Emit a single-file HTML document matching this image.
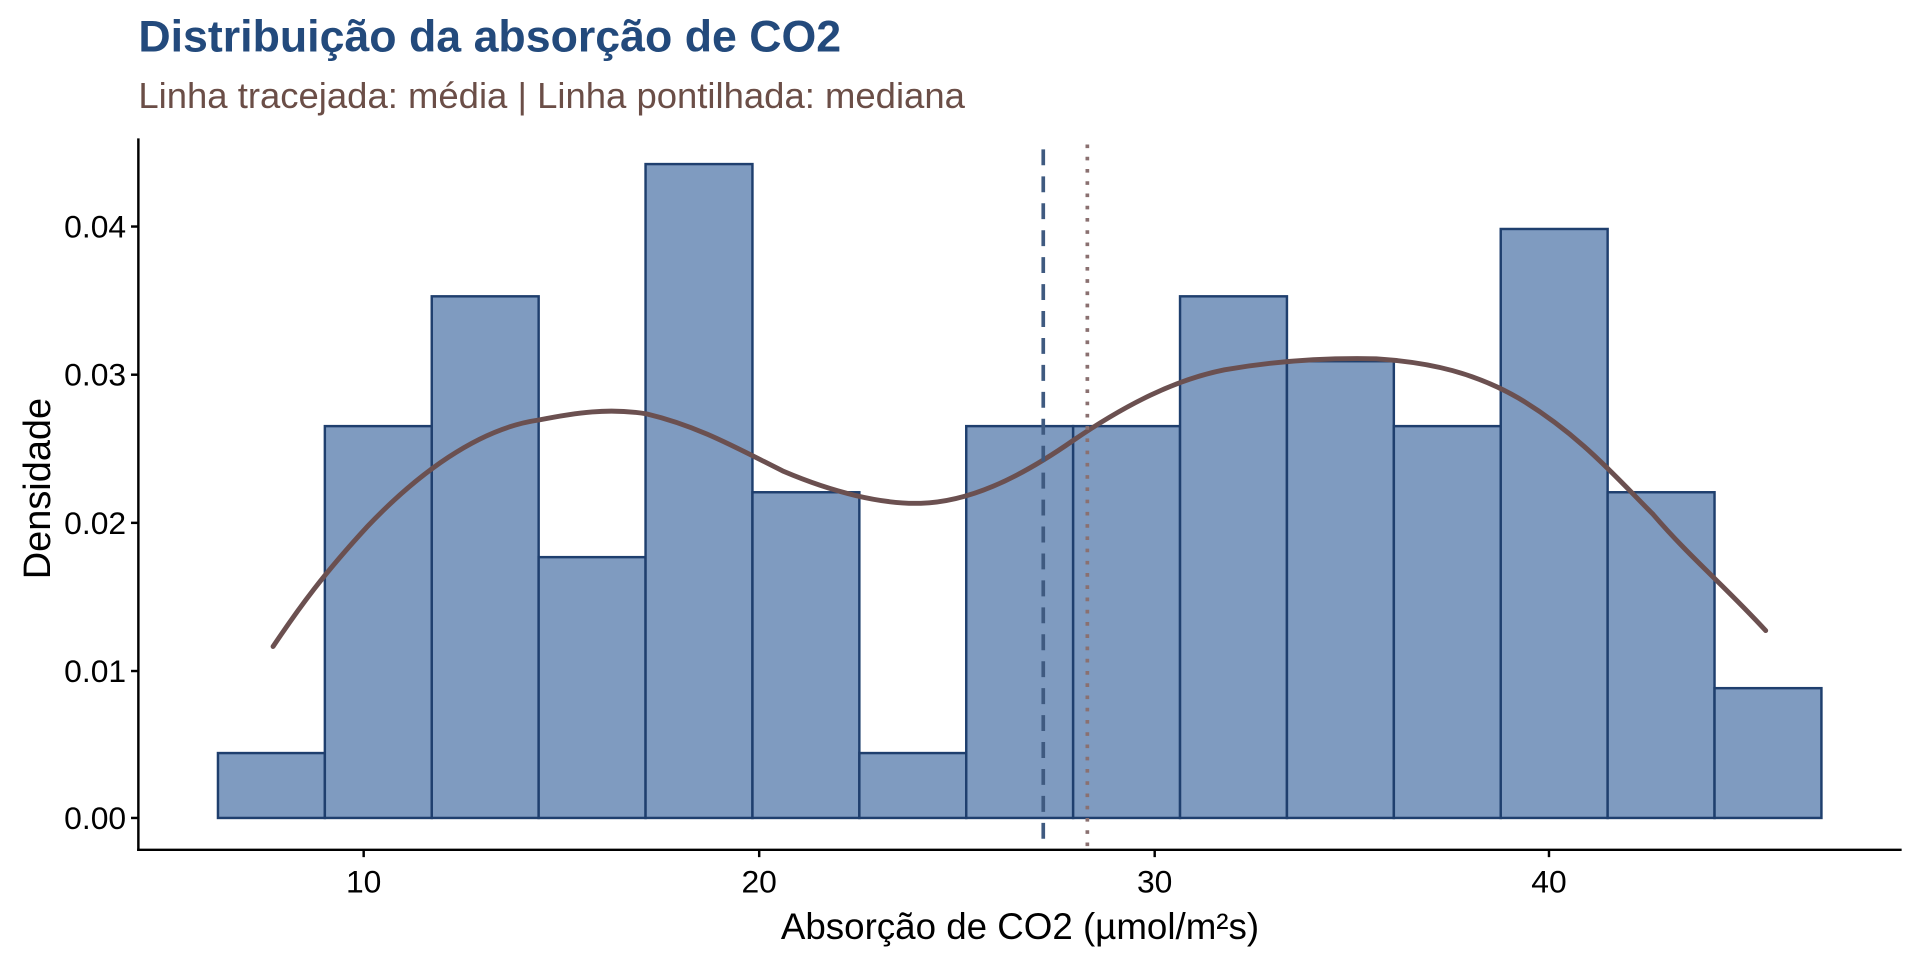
<!DOCTYPE html>
<html><head><meta charset="utf-8"><style>html,body{margin:0;padding:0;background:#fff;}svg{display:block;}</style></head>
<body>
<svg width="1920" height="960" viewBox="0 0 1568 784" xmlns="http://www.w3.org/2000/svg" font-family="Liberation Sans, Arial, sans-serif">
<text x="113" y="42" font-size="36.5" font-weight="bold" fill="#234a7c">Distribuição da absorção de CO2</text>
<text x="113" y="88" font-size="29.8" fill="#6b4e47">Linha tracejada: média | Linha pontilhada: mediana</text>
<g fill="#7f9bc0" stroke="#1f3f6e" stroke-width="2">
<rect x="178" y="615" width="87.3" height="53"/>
<rect x="265.3" y="348" width="87.3" height="320"/>
<rect x="352.6" y="242" width="87.3" height="426"/>
<rect x="439.9" y="455" width="87.3" height="213"/>
<rect x="527.2" y="134" width="87.3" height="534"/>
<rect x="614.5" y="402" width="87.3" height="266"/>
<rect x="701.8" y="615" width="87.3" height="53"/>
<rect x="789.1" y="348" width="87.3" height="320"/>
<rect x="876.4" y="348" width="87.3" height="320"/>
<rect x="963.7" y="242" width="87.3" height="426"/>
<rect x="1051" y="295" width="87.3" height="373"/>
<rect x="1138.3" y="348" width="87.3" height="320"/>
<rect x="1225.6" y="187" width="87.3" height="481"/>
<rect x="1312.9" y="402" width="87.3" height="266"/>
<rect x="1400.2" y="562" width="87.3" height="106"/>
</g>
<path d="M223,528 C245,495 265,468 300,430 C340,388 390,350 440,343 C470,337 497,333 528,338 C570,348 600,365 640,385 C680,402 720,412 752,411 C790,410 830,392 876,360 C920,330 960,310 1000,302 C1040,295 1080,292 1124,293 C1170,296 1205,305 1240,325 C1290,355 1320,390 1350,420 C1380,455 1410,480 1442,515" fill="none" stroke="#6b5050" stroke-width="4" stroke-linecap="round"/>
<line x1="852" y1="122" x2="852" y2="694" stroke="#3f5a80" stroke-width="3" stroke-dasharray="13,9"/>
<line x1="888" y1="118" x2="888" y2="694" stroke="#8a7070" stroke-width="3" stroke-dasharray="3,7"/>
<g stroke="#000" stroke-width="2">
<line x1="113" y1="113" x2="113" y2="695"/>
<line x1="112" y1="694" x2="1553" y2="694"/>
<line x1="107" y1="668" x2="113" y2="668"/>
<line x1="107" y1="548" x2="113" y2="548"/>
<line x1="107" y1="427" x2="113" y2="427"/>
<line x1="107" y1="306" x2="113" y2="306"/>
<line x1="107" y1="185" x2="113" y2="185"/>
<line x1="297" y1="694" x2="297" y2="700"/>
<line x1="620" y1="694" x2="620" y2="700"/>
<line x1="943" y1="694" x2="943" y2="700"/>
<line x1="1265" y1="694" x2="1265" y2="700"/>
</g>
<g font-size="26" fill="#000" text-anchor="end">
<text x="103" y="677">0.00</text>
<text x="103" y="557">0.01</text>
<text x="103" y="436">0.02</text>
<text x="103" y="315">0.03</text>
<text x="103" y="194">0.04</text>
</g>
<g font-size="26" fill="#000" text-anchor="middle">
<text x="297" y="729">10</text>
<text x="620" y="729">20</text>
<text x="943" y="729">30</text>
<text x="1265" y="729">40</text>
</g>
<text x="833" y="767" font-size="30" text-anchor="middle" fill="#000">Absorção de CO2 (µmol/m²s)</text>
<text transform="translate(41,399) rotate(-90)" font-size="31" text-anchor="middle" fill="#000">Densidade</text>
</svg>
</body></html>
